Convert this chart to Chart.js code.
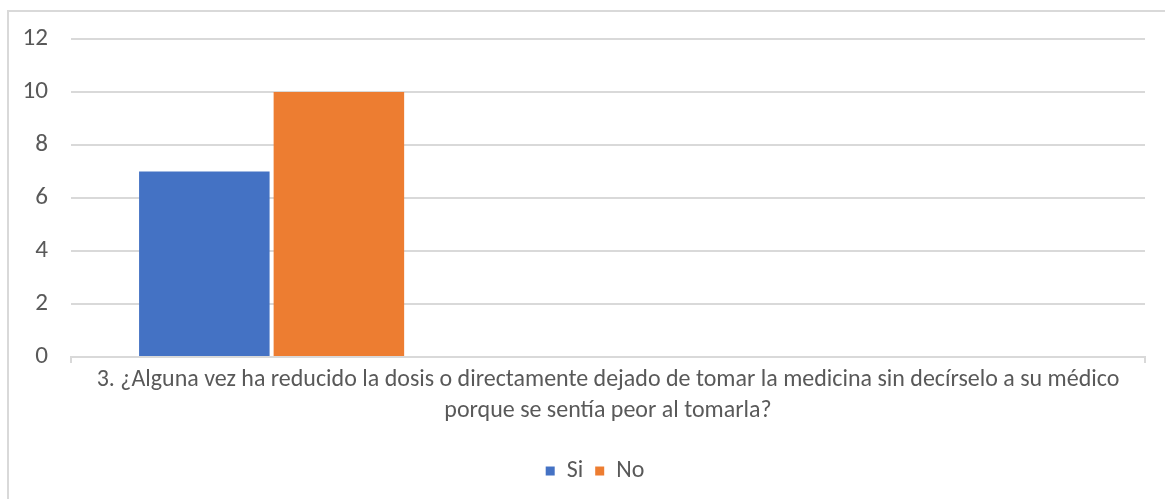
<!DOCTYPE html>
<html>
<head>
<meta charset="utf-8">
<script src="https://cdn.jsdelivr.net/npm/chart.js@4/dist/chart.umd.min.js"></script>
<style>
  html, body { margin: 0; padding: 0; background: #ffffff; overflow: hidden; width: 1165px; height: 499px; }
  #frame { position: absolute; left: 7px; top: 10px; width: 1200px; height: 600px; border: 2px solid #d9d9d9; box-sizing: border-box; }
  #wrap { position: absolute; left: 0; top: 0; width: 1190px; height: 499px; }
</style>
</head>
<body>
<div id="frame"></div>
<div id="wrap"><canvas id="c" width="1190" height="499"></canvas></div>
<script>
// ---- data ----
const categories = [["3. ¿Alguna vez ha reducido la dosis o directamente dejado de tomar la medicina sin decírselo a su médico", "porque se sentía peor al tomarla?"]];
const seriesNames = ["Si", "No"];
const siValues = [7];
const noValues = [10];
const emptySeries = [[null], [null], [null], [null], [null]]; // unused answer slots in the original workbook
const yTicks = [0, 2, 4, 6, 8, 10, 12];
const colors = ["#4472C4", "#ED7D31"];

// ---- pick font ----
function fontAvailable(name) {
  const cv = document.createElement('canvas').getContext('2d');
  const s = 'abcdefghijklmnopqrstuvwxyz0123456789';
  cv.font = '40px monospace'; const a = cv.measureText(s).width;
  cv.font = '40px "' + name + '", monospace'; const b = cv.measureText(s).width;
  cv.font = '40px serif'; const c2 = cv.measureText(s).width;
  cv.font = '40px "' + name + '", serif'; const d = cv.measureText(s).width;
  return a !== b || c2 !== d;
}
let family = 'sans-serif';
for (const f of ['Carlito', 'Liberation Sans Narrow', 'Open Sans', 'Noto Sans']) {
  if (fontAvailable(f)) { family = '"' + f + '"'; break; }
}
const ctxM = document.createElement('canvas').getContext('2d');
ctxM.font = '20px ' + family;
const w20 = ctxM.measureText(categories[0][0]).width;
let fs = 20 * 1023 / w20;
fs = Math.max(12, Math.min(24, fs));

Chart.defaults.font.family = family;
Chart.defaults.color = '#595959';

const datasets = [
  { label: seriesNames[0], data: siValues, backgroundColor: colors[0] },
  { label: seriesNames[1], data: noValues, backgroundColor: colors[1] }
];
emptySeries.forEach((d, i) => datasets.push({ label: '_empty' + i, data: d, backgroundColor: 'rgba(0,0,0,0)' }));
datasets.forEach(d => { d.categoryPercentage = 0.877; d.barPercentage = 0.97; });

new Chart(document.getElementById('c'), {
  type: 'bar',
  data: { labels: categories, datasets },
  options: {
    responsive: false,
    animation: false,
    layout: { padding: { left: 0, right: 0, top: 39, bottom: 6 } },
    plugins: {
      tooltip: { enabled: false },
      legend: {
        position: 'bottom',
        labels: {
          filter: item => seriesNames.includes(item.text),
          boxWidth: 9, boxHeight: 9, padding: 12,
          font: { size: fs }, color: '#595959'
        }
      }
    },
    scales: {
      x: {
        grid: { display: true, drawOnChartArea: false, drawTicks: true, tickLength: 6, color: '#d9d9d9', lineWidth: 2 },
        border: { display: true, color: '#d9d9d9', width: 2 },
        ticks: { font: { size: fs, lineHeight: 1.3 }, color: '#595959', padding: 1, maxRotation: 0 },
        afterFit: s => { s.height = 90; }
      },
      y: {
        min: 0, max: 12,
        afterBuildTicks: s => { s.ticks = yTicks.map(v => ({ value: v })); },
        grid: { color: '#d9d9d9', lineWidth: 2, drawTicks: false },
        border: { display: false },
        ticks: { font: { size: fs * 1.05 }, color: '#595959', padding: 23 },
        afterFit: s => { s.width = 71; }
      },
      yRight: {
        position: 'right',
        min: 0, max: 12,
        grid: { display: false },
        border: { display: false },
        ticks: { display: false },
        afterFit: s => { s.width = 45; }
      }
    }
  }
});
</script>
</body>
</html>
